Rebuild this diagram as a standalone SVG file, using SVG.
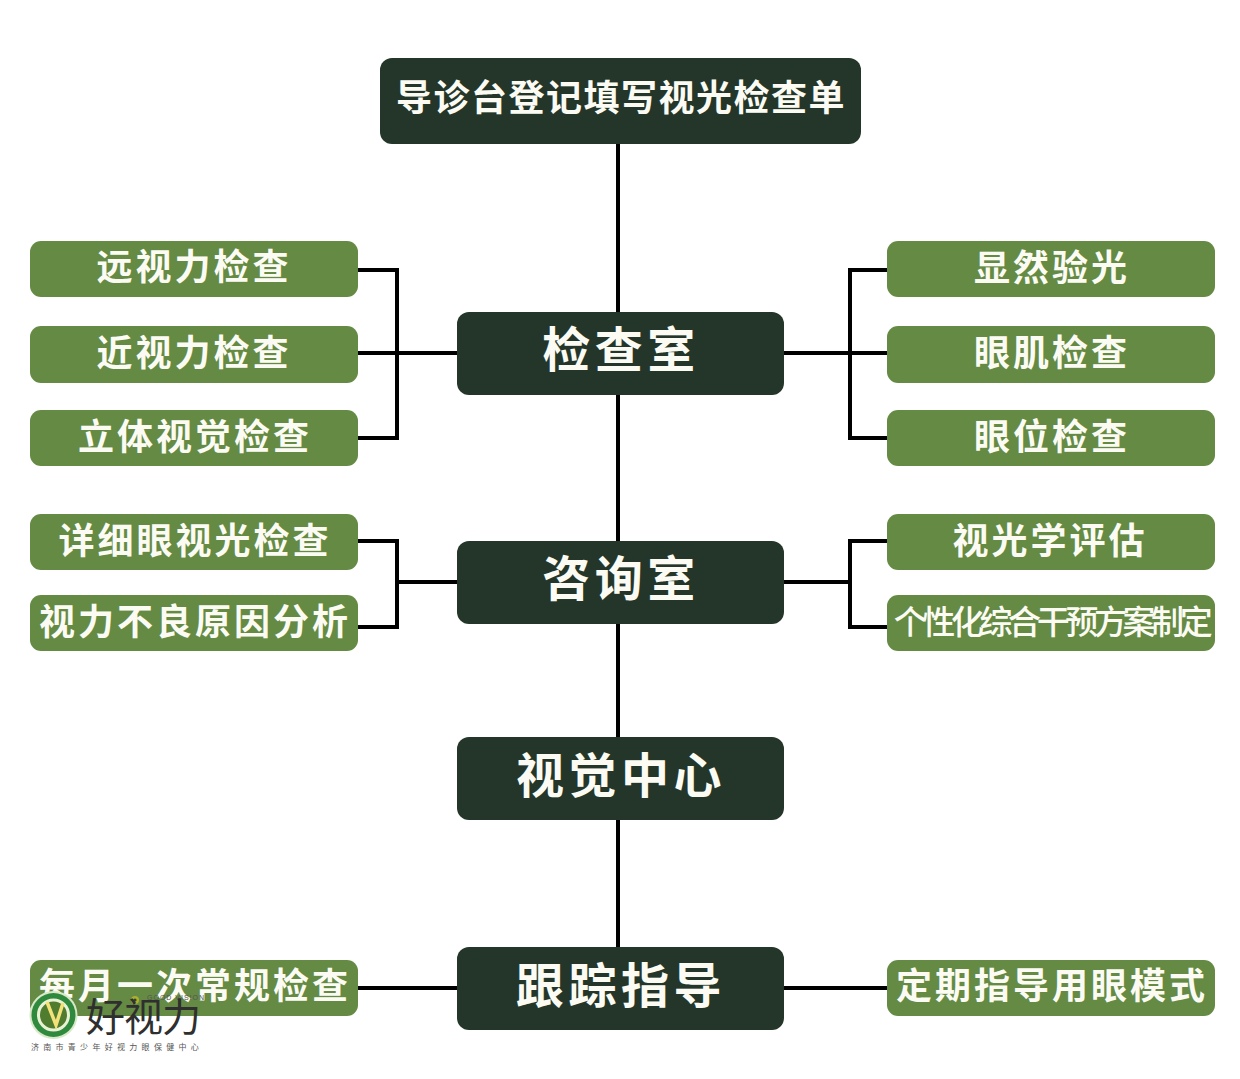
<svg xmlns="http://www.w3.org/2000/svg" width="1240" height="1079" viewBox="0 0 1240 1079">
<style>
.d{fill:#233629}
.g{fill:#648a43}
.t{font-family:"Noto Sans CJK SC","Noto Sans",sans-serif;font-weight:700;fill:#fbfbf3;text-anchor:middle}
.big{font-size:48px;letter-spacing:4.5px}
.top{font-size:36px;letter-spacing:1.5px}
.sm{font-size:36px;letter-spacing:3px}
.fit{font-size:33px;letter-spacing:-4.4px;font-weight:500}
.c{fill:none;stroke:#000;stroke-width:4}
</style>
<rect width="1240" height="1079" fill="#fff"/>
<g id="connectors" class="c">
<path d="M618 143V947"/>
<path d="M357 270H397V438H357M357 353H457"/>
<path d="M887 270H850V438H887M784 353H887"/>
<path d="M357 541H397V627H357M397 582H457"/>
<path d="M887 541H850V627H887M784 582H850"/>
<path d="M357 988H457M784 988H887"/>
</g>
<g id="n-top"><rect class="d" x="380" y="58" width="481" height="86" rx="12"/><text class="t top" x="621" y="111">导诊台登记填写视光检查单</text></g>
<g id="n-exam"><rect class="d" x="457" y="312" width="327" height="83" rx="12"/><text class="t big" x="621" y="367">检查室</text></g>
<g id="n-consult"><rect class="d" x="457" y="541" width="327" height="83" rx="12"/><text class="t big" x="621" y="596">咨询室</text></g>
<g id="n-center"><rect class="d" x="457" y="737" width="327" height="83" rx="12"/><text class="t big" x="621" y="793">视觉中心</text></g>
<g id="n-follow"><rect class="d" x="457" y="947" width="327" height="83" rx="12"/><text class="t big" x="621" y="1003">跟踪指导</text></g>
<g id="l1"><rect class="g" x="30" y="241" width="328" height="56" rx="11"/><text class="t sm" x="194" y="280">远视力检查</text></g>
<g id="l2"><rect class="g" x="30" y="326" width="328" height="57" rx="11"/><text class="t sm" x="194" y="366">近视力检查</text></g>
<g id="l3"><rect class="g" x="30" y="410" width="328" height="56" rx="11"/><text class="t sm" x="195" y="450">立体视觉检查</text></g>
<g id="l4"><rect class="g" x="30" y="514" width="328" height="56" rx="11"/><text class="t sm" x="195" y="554">详细眼视光检查</text></g>
<g id="l5"><rect class="g" x="30" y="595" width="328" height="56" rx="11"/><text class="t sm" x="195" y="635">视力不良原因分析</text></g>
<g id="l6"><rect class="g" x="30" y="960" width="328" height="56" rx="11"/><text class="t sm" x="195" y="999">每月一次常规检查</text></g>
<g id="r1"><rect class="g" x="887" y="241" width="328" height="56" rx="11"/><text class="t sm" x="1052" y="281">显然验光</text></g>
<g id="r2"><rect class="g" x="887" y="326" width="328" height="57" rx="11"/><text class="t sm" x="1052" y="366">眼肌检查</text></g>
<g id="r3"><rect class="g" x="887" y="410" width="328" height="56" rx="11"/><text class="t sm" x="1052" y="450">眼位检查</text></g>
<g id="r4"><rect class="g" x="887" y="514" width="328" height="56" rx="11"/><text class="t sm" x="1050" y="554">视光学评估</text></g>
<g id="r5"><rect class="g" x="887" y="595" width="328" height="56" rx="11"/><text class="t fit" x="1051" y="634">个性化综合干预方案制定</text></g>
<g id="r6"><rect class="g" x="887" y="960" width="328" height="56" rx="11"/><text class="t sm" x="1052" y="999">定期指导用眼模式</text></g>
<g id="logo">
<circle cx="53.5" cy="1015" r="24" fill="#d9e8c8"/>
<circle cx="53.5" cy="1015" r="22" fill="#2f8a3d"/>
<circle cx="53.5" cy="1015" r="15" fill="#4f7c2e" stroke="#e9f2d4" stroke-width="3"/>
<path d="M47 1002L56 1025L63 1003" fill="none" stroke="#f3e27a" stroke-width="3.5"/>
<circle cx="135" cy="1000" r="4" fill="#a9b02c"/>
<circle cx="135" cy="1000" r="1.6" fill="#3b3b3b"/>
<text x="147" y="1000" font-family="Liberation Sans,sans-serif" font-size="7" letter-spacing="1" fill="#555">GOOD VISION</text>
<text x="143" y="1031" font-family="Noto Sans CJK SC,sans-serif" font-size="39" font-weight="400" letter-spacing="-1" text-anchor="middle" fill="#2f2f2f">好视力</text>
<text x="117" y="1050" font-family="Noto Sans CJK SC,sans-serif" font-size="8" letter-spacing="4.3" text-anchor="middle" fill="#555">济南市青少年好视力眼保健中心</text>
</g>
</svg>
